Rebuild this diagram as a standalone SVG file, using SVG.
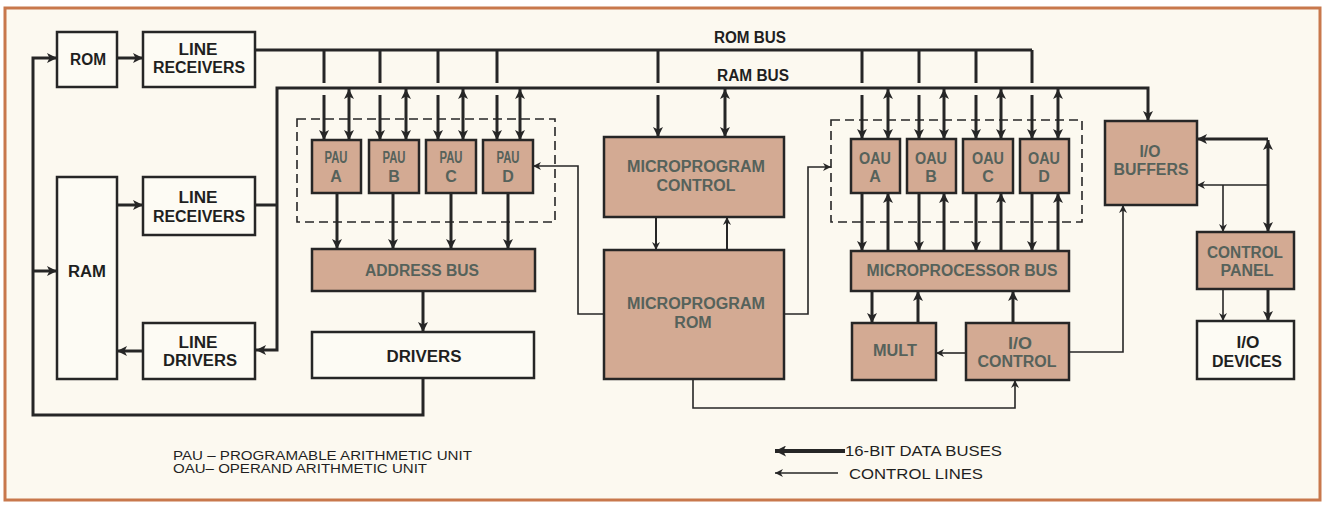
<svg xmlns="http://www.w3.org/2000/svg" width="1325" height="505" viewBox="0 0 1325 505">
<defs>
<style>
.box{fill:#fdfbf4;stroke:#262626;stroke-width:2.5}
.tan{fill:#d3aa93;stroke:#262626;stroke-width:2.5}
.dash{fill:none;stroke:#262626;stroke-width:1.6;stroke-dasharray:9 5}
.t{font-family:"Liberation Sans",Arial,sans-serif;font-size:16px;font-weight:bold;fill:#1f1f1f;text-anchor:middle}
.tt{font-family:"Liberation Sans",Arial,sans-serif;font-size:16px;font-weight:bold;fill:#56625b;text-anchor:middle}
.lg{font-family:"Liberation Sans",Arial,sans-serif;font-size:12.5px;fill:#1f1f1f}
.lg2{font-family:"Liberation Sans",Arial,sans-serif;font-size:15px;fill:#1f1f1f}
.thick{fill:none;stroke:#262626;stroke-width:3}
.thin{fill:none;stroke:#262626;stroke-width:1.6}
.med{fill:none;stroke:#262626;stroke-width:2}
</style>
<marker id="ah" viewBox="0 0 10 10" refX="10" refY="5" markerWidth="11" markerHeight="10" markerUnits="userSpaceOnUse" orient="auto-start-reverse">
<path d="M0,0 L10,5 L0,10 L2.5,5 z" fill="#262626"/>
</marker>
<marker id="at" viewBox="0 0 10 10" refX="10" refY="5" markerWidth="9" markerHeight="8" markerUnits="userSpaceOnUse" orient="auto-start-reverse">
<path d="M0,0 L10,5 L0,10 L3,5 z" fill="#262626"/>
</marker>
<marker id="al" viewBox="0 0 10 10" refX="10" refY="5" markerWidth="16" markerHeight="11" markerUnits="userSpaceOnUse" orient="auto-start-reverse">
<path d="M0,0 L10,5 L0,10 L2.5,5 z" fill="#262626"/>
</marker>
</defs>
<rect x="0" y="0" width="1325" height="505" fill="#ffffff"/>
<rect x="5" y="8" width="1315" height="492" fill="#fcf9f0" stroke="#c8784c" stroke-width="3"/>

<g id="connectors">
<path class="thick" d="M255 50 H1032"/>
<path class="thick" marker-end="url(#ah)" d="M324 50 V83 M324 95 V140"/>
<path class="thick" marker-end="url(#ah)" d="M380 50 V83 M380 95 V140"/>
<path class="thick" marker-end="url(#ah)" d="M438 50 V83 M438 95 V140"/>
<path class="thick" marker-end="url(#ah)" d="M497 50 V83 M497 95 V140"/>
<path class="thick" marker-end="url(#ah)" d="M658 50 V83 M658 95 V137"/>
<path class="thick" marker-end="url(#ah)" d="M862 50 V83 M862 95 V139"/>
<path class="thick" marker-end="url(#ah)" d="M919 50 V83 M919 95 V139"/>
<path class="thick" marker-end="url(#ah)" d="M976 50 V83 M976 95 V139"/>
<path class="thick" marker-end="url(#ah)" d="M1032 50 V83 M1032 95 V139"/>
<path class="thick" marker-start="url(#ah)" marker-end="url(#ah)" d="M1148 121 V88 H277 V350 H256"/>
<path class="thick" d="M255 205 H277"/>
<path class="thick" marker-start="url(#ah)" marker-end="url(#ah)" d="M349 89 V140"/>
<path class="thick" marker-start="url(#ah)" marker-end="url(#ah)" d="M406 89 V140"/>
<path class="thick" marker-start="url(#ah)" marker-end="url(#ah)" d="M463 89 V140"/>
<path class="thick" marker-start="url(#ah)" marker-end="url(#ah)" d="M520 89 V140"/>
<path class="thick" marker-start="url(#ah)" marker-end="url(#ah)" d="M725 89 V137"/>
<path class="thick" marker-start="url(#ah)" marker-end="url(#ah)" d="M888 89 V139"/>
<path class="thick" marker-start="url(#ah)" marker-end="url(#ah)" d="M944 89 V139"/>
<path class="thick" marker-start="url(#ah)" marker-end="url(#ah)" d="M1001 89 V139"/>
<path class="thick" marker-start="url(#ah)" marker-end="url(#ah)" d="M1058 89 V139"/>
<path class="thick" marker-end="url(#ah)" d="M337 193 V249"/>
<path class="thick" marker-end="url(#ah)" d="M393 193 V249"/>
<path class="thick" marker-end="url(#ah)" d="M451 193 V249"/>
<path class="thick" marker-end="url(#ah)" d="M508 193 V249"/>
<path class="thick" marker-end="url(#ah)" d="M423 291 V332"/>
<path class="thick" marker-end="url(#ah)" d="M423 378 V415 H33 V58 H57"/>
<path class="thick" marker-end="url(#ah)" d="M33 271 H57"/>
<path class="thick" marker-end="url(#ah)" d="M117 58 H143"/>
<path class="thick" marker-end="url(#ah)" d="M117 205 H143"/>
<path class="thick" marker-end="url(#ah)" d="M143 351 H117"/>
<path class="thick" marker-end="url(#ah)" d="M862 193 V251"/>
<path class="thick" marker-end="url(#ah)" d="M919 193 V251"/>
<path class="thick" marker-end="url(#ah)" d="M976 193 V251"/>
<path class="thick" marker-end="url(#ah)" d="M1032 193 V251"/>
<path class="thick" marker-end="url(#ah)" d="M888 251 V193"/>
<path class="thick" marker-end="url(#ah)" d="M944 251 V193"/>
<path class="thick" marker-end="url(#ah)" d="M1001 251 V193"/>
<path class="thick" marker-end="url(#ah)" d="M1058 251 V193"/>
<path class="thick" marker-end="url(#ah)" d="M872 291 V323"/>
<path class="thick" marker-end="url(#ah)" d="M918 323 V291"/>
<path class="thick" marker-end="url(#ah)" d="M1013 323 V291"/>
<path class="thick" marker-end="url(#ah)" d="M1268 139 H1197"/>
<path class="thick" marker-start="url(#ah)" marker-end="url(#ah)" d="M1268 140 V232"/>
<path class="thick" marker-end="url(#ah)" d="M1268 289 V321"/>
<path class="thin" marker-end="url(#at)" d="M604 314 H578 V166 H533"/>
<path class="thin" marker-end="url(#at)" d="M784 314 H808 V167 H831"/>
<path class="thin" marker-end="url(#at)" d="M693 379 V408 H1015 V380"/>
<path class="med" marker-end="url(#at)" d="M656 217 V250"/>
<path class="med" marker-end="url(#at)" d="M727 250 V217"/>
<path class="thin" marker-end="url(#at)" d="M966 353 H936"/>
<path class="thin" marker-end="url(#at)" d="M1069 352 H1123 V205"/>
<path class="thin" marker-end="url(#at)" d="M1268 185 H1197"/>
<path class="thin" marker-end="url(#at)" d="M1223 185 V232"/>
<path class="thin" marker-end="url(#at)" d="M1223 289 V321"/>
</g>

<g id="rom"><rect class="box" x="57" y="32" width="60" height="55"/><text class="t" x="88" y="65" textLength="36" lengthAdjust="spacingAndGlyphs">ROM</text></g>
<g id="line-receivers-1"><rect class="box" x="143" y="32" width="112" height="55"/><text class="t" x="198" y="55" textLength="39" lengthAdjust="spacingAndGlyphs">LINE</text><text class="t" x="199" y="73" textLength="92" lengthAdjust="spacingAndGlyphs">RECEIVERS</text></g>
<g id="ram"><rect class="box" x="57" y="177" width="60" height="202"/><text class="t" x="87" y="277" textLength="38" lengthAdjust="spacingAndGlyphs">RAM</text></g>
<g id="line-receivers-2"><rect class="box" x="143" y="177" width="112" height="58"/><text class="t" x="198" y="203" textLength="39" lengthAdjust="spacingAndGlyphs">LINE</text><text class="t" x="199" y="222" textLength="92" lengthAdjust="spacingAndGlyphs">RECEIVERS</text></g>
<g id="line-drivers"><rect class="box" x="143" y="323" width="112" height="56"/><text class="t" x="198" y="348" textLength="39" lengthAdjust="spacingAndGlyphs">LINE</text><text class="t" x="200" y="366" textLength="74" lengthAdjust="spacingAndGlyphs">DRIVERS</text></g>

<g id="pau-group"><rect class="dash" x="297" y="119" width="258" height="103"/></g>
<g id="pau-a"><rect class="tan" x="312" y="140" width="49" height="53"/><text class="tt" x="336" y="163" textLength="23" lengthAdjust="spacingAndGlyphs">PAU</text><text class="tt" x="336" y="182">A</text></g>
<g id="pau-b"><rect class="tan" x="369" y="140" width="50" height="53"/><text class="tt" x="394" y="163" textLength="23" lengthAdjust="spacingAndGlyphs">PAU</text><text class="tt" x="394" y="182">B</text></g>
<g id="pau-c"><rect class="tan" x="426" y="140" width="50" height="53"/><text class="tt" x="451" y="163" textLength="23" lengthAdjust="spacingAndGlyphs">PAU</text><text class="tt" x="451" y="182">C</text></g>
<g id="pau-d"><rect class="tan" x="483" y="140" width="50" height="53"/><text class="tt" x="508" y="163" textLength="23" lengthAdjust="spacingAndGlyphs">PAU</text><text class="tt" x="508" y="182">D</text></g>
<g id="address-bus"><rect class="tan" x="312" y="249" width="223" height="42"/><text class="tt" x="422" y="276" textLength="114" lengthAdjust="spacingAndGlyphs">ADDRESS BUS</text></g>
<g id="drivers"><rect class="box" x="312" y="332" width="222" height="46"/><text class="t" x="424" y="362" textLength="75" lengthAdjust="spacingAndGlyphs">DRIVERS</text></g>

<g id="microprogram-control"><rect class="tan" x="604" y="137" width="180" height="80"/><text class="tt" x="696" y="172" textLength="138" lengthAdjust="spacingAndGlyphs">MICROPROGRAM</text><text class="tt" x="696" y="191" textLength="79" lengthAdjust="spacingAndGlyphs">CONTROL</text></g>
<g id="microprogram-rom"><rect class="tan" x="604" y="250" width="180" height="129"/><text class="tt" x="696" y="309" textLength="138" lengthAdjust="spacingAndGlyphs">MICROPROGRAM</text><text class="tt" x="693" y="328">ROM</text></g>

<g id="oau-group"><rect class="dash" x="831" y="120" width="251" height="102"/></g>
<g id="oau-a"><rect class="tan" x="851" y="139" width="49" height="54"/><text class="tt" x="875" y="164" textLength="32" lengthAdjust="spacingAndGlyphs">OAU</text><text class="tt" x="875" y="182">A</text></g>
<g id="oau-b"><rect class="tan" x="907" y="139" width="49" height="54"/><text class="tt" x="931" y="164" textLength="32" lengthAdjust="spacingAndGlyphs">OAU</text><text class="tt" x="931" y="182">B</text></g>
<g id="oau-c"><rect class="tan" x="963" y="139" width="50" height="54"/><text class="tt" x="988" y="164" textLength="32" lengthAdjust="spacingAndGlyphs">OAU</text><text class="tt" x="988" y="182">C</text></g>
<g id="oau-d"><rect class="tan" x="1020" y="139" width="49" height="54"/><text class="tt" x="1044" y="164" textLength="32" lengthAdjust="spacingAndGlyphs">OAU</text><text class="tt" x="1044" y="182">D</text></g>
<g id="microprocessor-bus"><rect class="tan" x="851" y="251" width="218" height="40"/><text class="tt" x="962" y="276" textLength="191" lengthAdjust="spacingAndGlyphs">MICROPROCESSOR BUS</text></g>
<g id="mult"><rect class="tan" x="852" y="323" width="84" height="57"/><text class="tt" x="895" y="356" textLength="44" lengthAdjust="spacingAndGlyphs">MULT</text></g>
<g id="io-control"><rect class="tan" x="966" y="323" width="103" height="57"/><text class="tt" x="1020" y="349" textLength="24" lengthAdjust="spacingAndGlyphs">I/O</text><text class="tt" x="1017" y="367" textLength="79" lengthAdjust="spacingAndGlyphs">CONTROL</text></g>
<g id="io-buffers"><rect class="tan" x="1105" y="121" width="92" height="84"/><text class="tt" x="1150" y="157" textLength="21" lengthAdjust="spacingAndGlyphs">I/O</text><text class="tt" x="1151" y="175" textLength="75" lengthAdjust="spacingAndGlyphs">BUFFERS</text></g>
<g id="control-panel"><rect class="tan" x="1197" y="232" width="97" height="57"/><text class="tt" x="1245" y="258" textLength="76" lengthAdjust="spacingAndGlyphs">CONTROL</text><text class="tt" x="1247" y="276" textLength="53" lengthAdjust="spacingAndGlyphs">PANEL</text></g>
<g id="io-devices"><rect class="box" x="1197" y="321" width="97" height="58"/><text class="t" x="1248" y="348" textLength="23" lengthAdjust="spacingAndGlyphs">I/O</text><text class="t" x="1247" y="367" textLength="70" lengthAdjust="spacingAndGlyphs">DEVICES</text></g>

<g id="bus-labels">
<text class="t" x="750" y="43" textLength="72" lengthAdjust="spacingAndGlyphs">ROM BUS</text>
<text class="t" x="753" y="81" textLength="72" lengthAdjust="spacingAndGlyphs">RAM BUS</text>
</g>

<g id="legend">
<text class="lg" x="173" y="460" textLength="299" lengthAdjust="spacingAndGlyphs">PAU – PROGRAMABLE ARITHMETIC UNIT</text>
<text class="lg" x="173" y="473" textLength="254" lengthAdjust="spacingAndGlyphs">OAU– OPERAND ARITHMETIC UNIT</text>
<path fill="none" stroke="#262626" stroke-width="4" marker-end="url(#al)" d="M845 451 H775"/>
<path class="thin" marker-end="url(#at)" d="M838 473 H775"/>
<text class="lg2" x="845" y="456" textLength="157" lengthAdjust="spacingAndGlyphs">16-BIT DATA BUSES</text>
<text class="lg2" x="849" y="479" textLength="134" lengthAdjust="spacingAndGlyphs">CONTROL LINES</text>
</g>
</svg>
